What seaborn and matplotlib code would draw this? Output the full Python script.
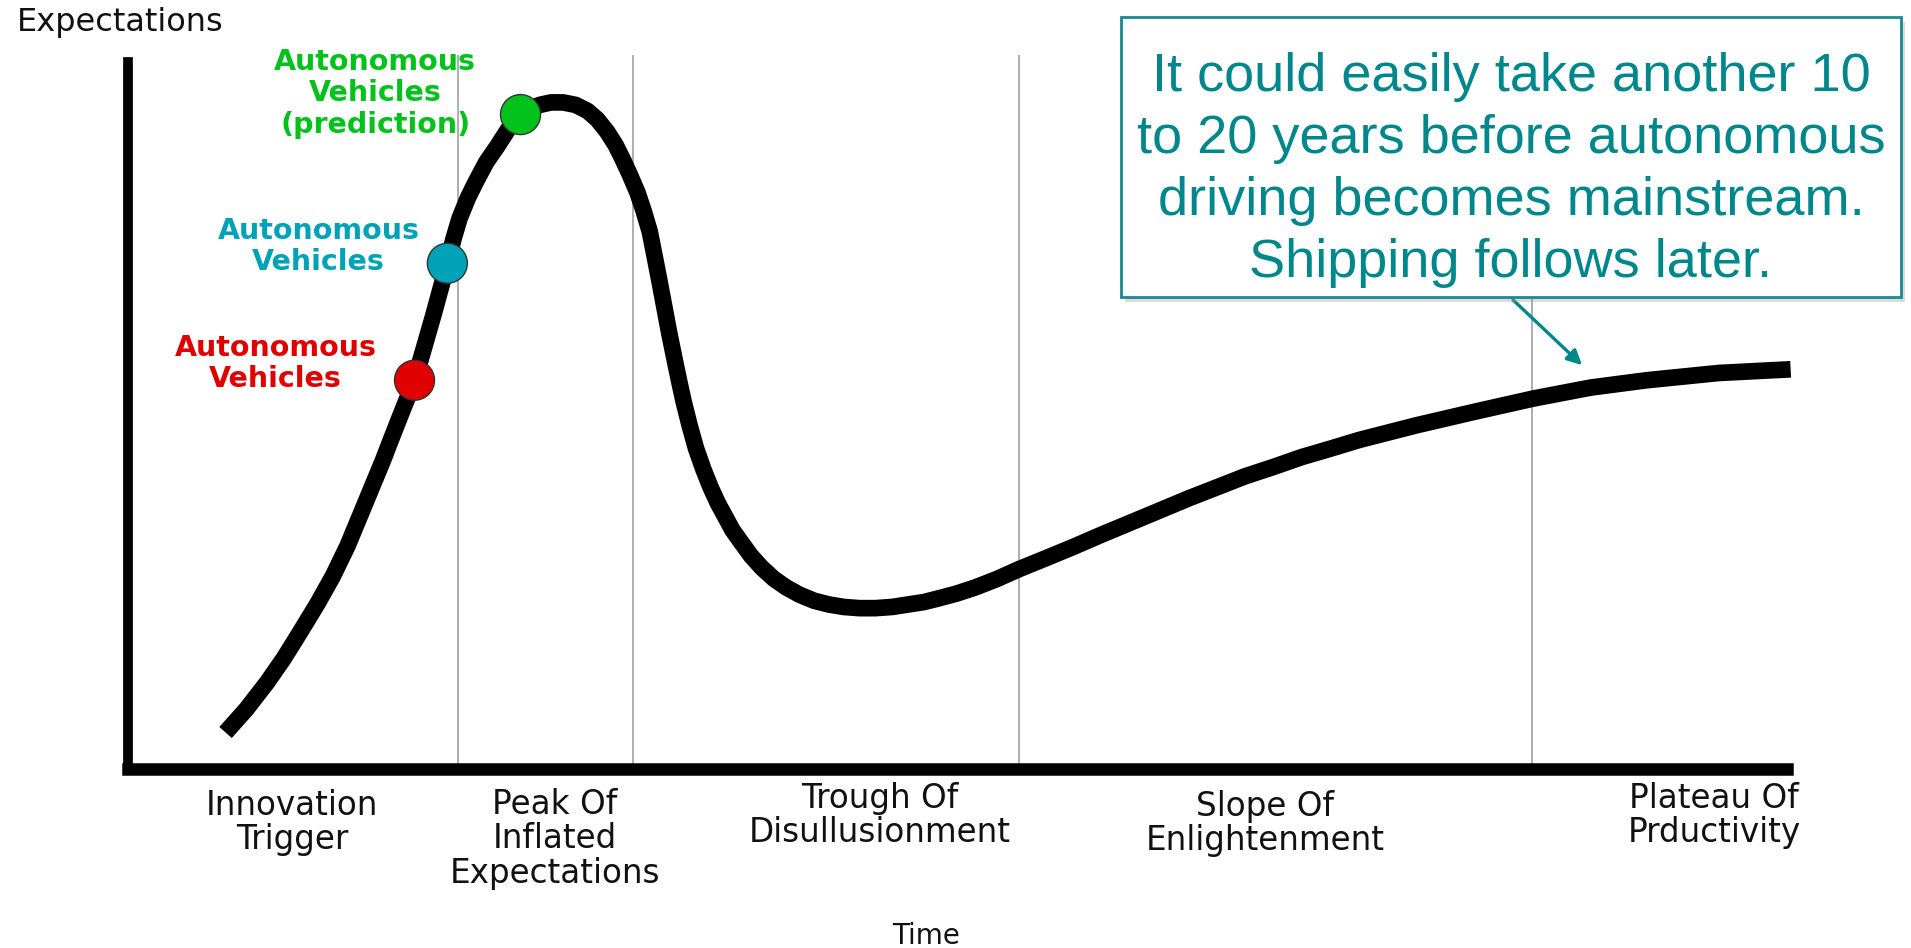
import numpy as np
import pandas as pd
import matplotlib.pyplot as plt
import matplotlib.patches as mpatches
import seaborn as sns

# hype curve (time 0-100, expectations 0-100)
time = [5.88, 7.13, 8.38, 9.40, 10.36, 11.39, 12.34, 13.23, 13.96, 14.69,
        15.36, 15.87, 16.39, 16.83, 17.27, 17.85, 18.44, 18.88, 19.25, 19.62,
        19.99, 20.50, 21.01, 21.60, 22.26, 22.92, 23.66, 24.25, 24.83, 25.50,
        26.23, 26.97, 27.70, 28.29, 28.88, 29.39, 29.83, 30.27, 30.71, 31.08,
        31.45, 31.74, 32.04, 32.33, 32.62, 32.92, 33.21, 33.50, 33.87, 34.24,
        34.68, 35.12, 35.56, 36.00, 36.44, 36.96, 37.55, 38.21, 38.94,
        39.68, 40.48, 41.37, 42.25, 43.13, 44.09, 45.04, 46.07, 47.02, 47.98,
        48.86, 49.96, 51.07, 52.39, 53.71, 55.33, 56.94, 58.63, 60.40, 62.16,
        63.92, 65.61, 67.30, 69.07, 70.76, 72.52, 74.21, 77.66, 81.12, 84.72,
        88.17, 91.55, 95.89, 100.22]
expectations = [5.08, 8.31, 12.03, 15.42, 18.98, 22.88, 26.78, 31.02, 35.08, 39.15,
                42.88, 45.93, 48.98, 51.53, 54.07, 58.64, 63.39, 67.12, 70.34, 73.73,
                76.61, 79.49, 81.86, 84.41, 86.61, 88.98, 91.02, 91.86, 92.37, 92.71,
                92.71, 92.37, 91.53, 90.34, 88.64, 86.78, 84.75, 82.54, 80.17, 77.63,
                74.75, 71.36, 67.80, 64.24, 60.68, 57.29, 54.07, 51.02, 47.63, 44.58,
                41.69, 39.15, 36.95, 35.08, 33.22, 31.53, 29.66, 27.97, 26.44,
                25.25, 24.24, 23.39, 22.88, 22.54, 22.37, 22.37, 22.54, 22.88, 23.22,
                23.73, 24.41, 25.25, 26.44, 27.80, 29.32, 30.85, 32.54, 34.24, 35.93,
                37.63, 39.15, 40.68, 42.03, 43.39, 44.58, 45.76, 47.80, 49.66, 51.53,
                53.05, 54.07, 55.08, 55.59]

phase_bounds = [19.91, 30.42, 53.71, 84.64]
phase_labels = ["Innovation\nTrigger", "Peak Of\nInflated\nExpectations",
                "Trough Of\nDisullusionment", "Slope Of\nEnlightenment",
                "Plateau Of\nPrductivity"]

dot_names = ["now", "current", "prediction"]
dot_x = [17.27, 19.25, 23.66]
dot_y = [54.07, 70.34, 91.02]
dot_colors = ["#E00000", "#00A2B8", "#00C21B"]
dot_labels = ["Autonomous\nVehicles", "Autonomous\nVehicles", "Autonomous\nVehicles\n(prediction)"]

note = ("It could easily take another 10\nto 20 years before autonomous\n"
        "driving becomes mainstream.\nShipping follows later.")
teal = "#00878C"

sns.set_style("white")
plt.rcParams['font.family'] = ['DejaVu Sans']

W, H = 1911, 948
fig = plt.figure(figsize=(W / 100, H / 100), dpi=100)
ax = fig.add_axes([128 / W, 1 - 769 / H, 1659 * 1.01 / W, 719 / H])
ax.set_xlim(0, 101)
ax.set_ylim(0, 100)

df = pd.DataFrame({"time": time, "expectations": expectations})
sns.lineplot(data=df, x="time", y="expectations", color="black", linewidth=12,
             estimator=None, sort=False, solid_capstyle="butt", solid_joinstyle="round",
             ax=ax, zorder=3, clip_on=False)

ax.vlines(phase_bounds, 0, 99.3, color="#a8a8a8", linewidth=1.3, zorder=1)

sns.scatterplot(x=dot_x, y=dot_y, hue=dot_names, palette=dict(zip(dot_names, dot_colors)),
                s=830, edgecolor="#333333", linewidth=1, legend=False, ax=ax, zorder=5)

label_pos = [(8.9, 56.4), (11.5, 72.7), (14.9, 94.0)]
for (lx, ly), txt, c in zip(label_pos, dot_labels, dot_colors):
    ax.text(lx, ly, txt, color=c, fontsize=20.5, fontweight="bold", ha="center",
            va="center", multialignment="center", linespacing=1.16)

for s in ["top", "right"]:
    ax.spines[s].set_visible(False)
ax.spines["left"].set_linewidth(7)
ax.spines["left"].set_bounds(0, 98.3)
ax.spines["bottom"].set_linewidth(9)
ax.spines["bottom"].set_bounds(0, 100)
for s in ["left", "bottom"]:
    ax.spines[s].set_color("black")
ax.set_xticks([])
ax.set_yticks([])
ax.set_xlabel("")
ax.set_ylabel("")

# phase names under the axis
label_x = [292, 555, 880, 1265, 1714]
label_top = [789, 788, 782, 790, 782]
for px, py, txt in zip(label_x, label_top, phase_labels):
    fig.text(px / W, 1 - py / H, txt, fontsize=23.5, ha="center", va="top",
             multialignment="center", linespacing=1.05, color="#111111")

fig.text(17 / W, 1 - 22 / H, "Expectations", fontsize=23, ha="left", va="center", color="#111111")
fig.text(926 / W, 1 - 936 / H, "Time", fontsize=20, ha="center", va="center", color="#111111")

# callout box with shadow
shadow = mpatches.Rectangle((1125 / W, 1 - 302 / H), 780 / W, 280 / H, transform=fig.transFigure,
                            facecolor="#999999", alpha=0.35, edgecolor="none", zorder=1)
box = mpatches.Rectangle((1121 / W, 1 - 297 / H), 780 / W, 280 / H, transform=fig.transFigure,
                         facecolor="white", edgecolor="#1A8A91", linewidth=2, zorder=2)
fig.patches.extend([shadow, box])
fig.text(1511 / W, 1 - 170 / H, note, fontsize=39, family="Liberation Sans", color=teal,
         ha="center", va="center", multialignment="center", linespacing=1.31, zorder=3)

ax.annotate("", xy=(87.77, 55.9), xycoords="data",
            xytext=(1511 / W, 1 - 298 / H), textcoords="figure fraction",
            arrowprops=dict(arrowstyle="-|>", color=teal, lw=2.4, mutation_scale=22))

fig.savefig("out.png", dpi=100)
